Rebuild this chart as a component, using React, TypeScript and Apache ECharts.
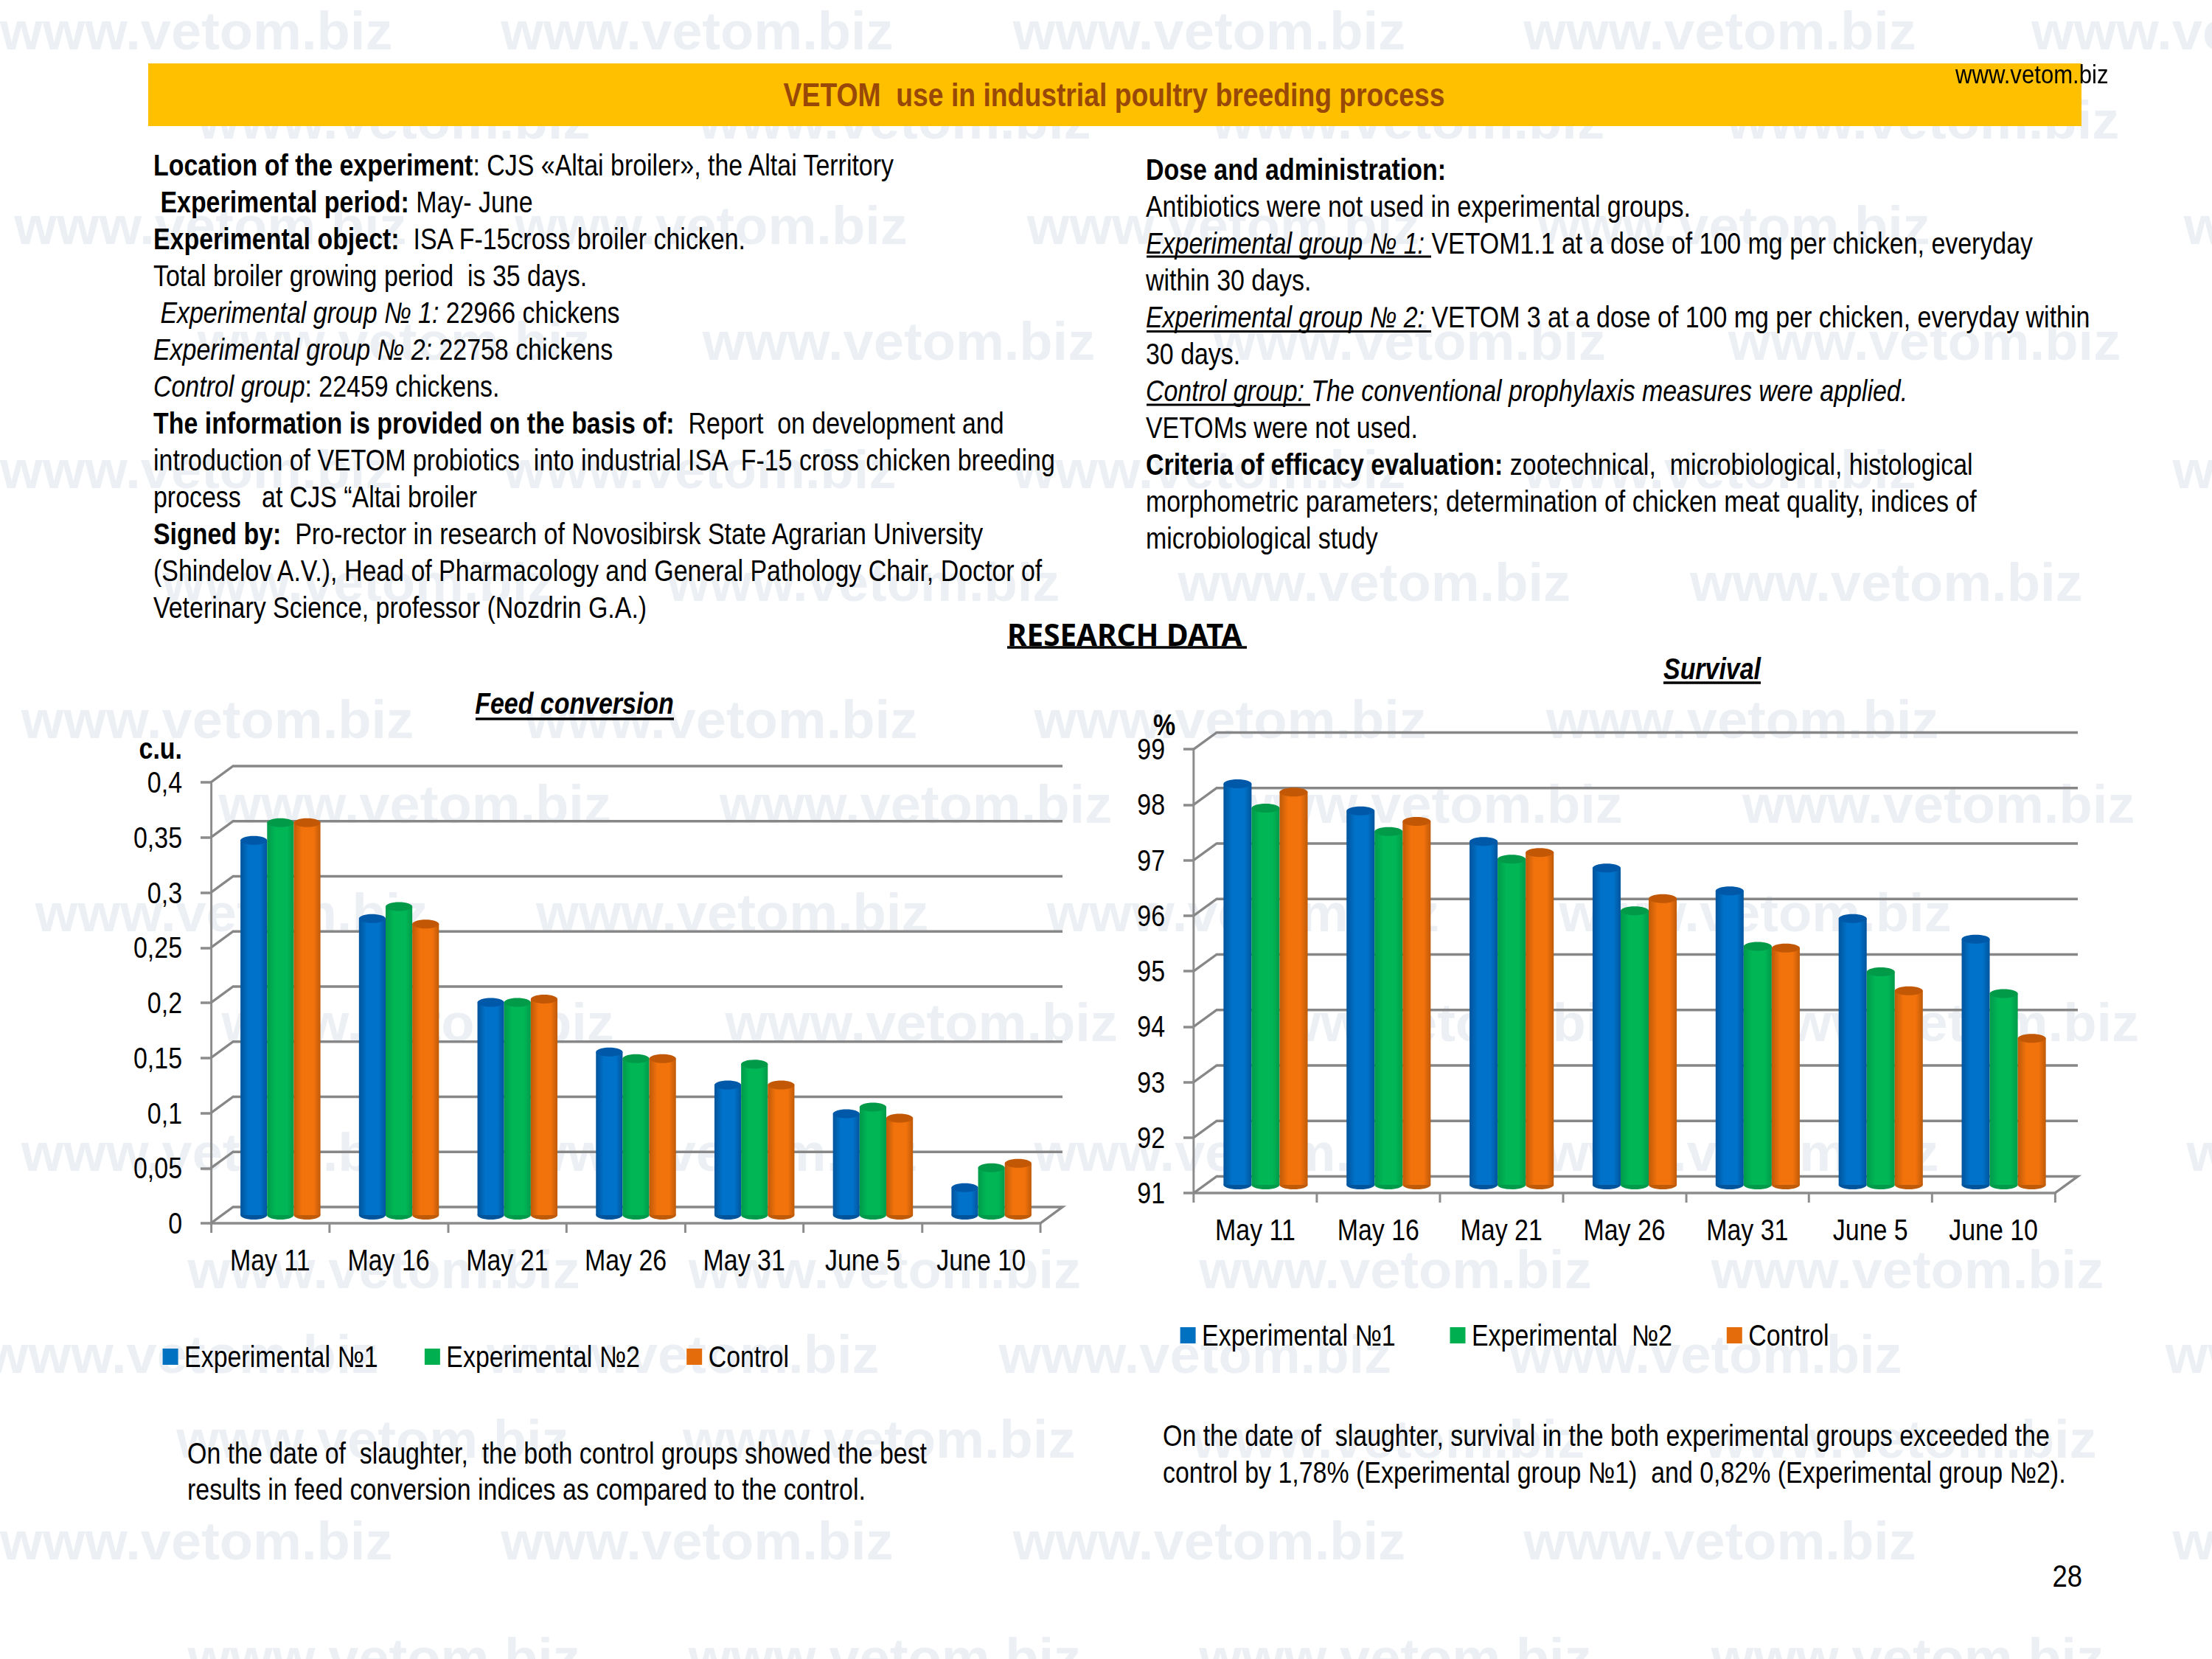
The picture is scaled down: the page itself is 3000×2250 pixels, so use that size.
import React, { useEffect, useRef } from "react";
import * as echarts from "echarts";

const categories = ["May 11", "May 16", "May 21", "May 26", "May 31", "June 5", "June 10"];

const feedExp1 = [0.34, 0.269, 0.193, 0.148, 0.118, 0.092, 0.025];
const feedExp2 = [0.356, 0.28, 0.193, 0.142, 0.137, 0.098, 0.043];
const feedCtrl = [0.356, 0.264, 0.196, 0.142, 0.118, 0.088, 0.047];
const feedTicks = [0, 0.05, 0.1, 0.15, 0.2, 0.25, 0.3, 0.35, 0.4];

const survExp1 = [98.23, 97.74, 97.19, 96.71, 96.3, 95.8, 95.43];
const survExp2 = [97.79, 97.37, 96.87, 95.94, 95.3, 94.84, 94.45];
const survCtrl = [98.08, 97.55, 96.99, 96.16, 95.27, 94.5, 93.64];
const survTicks = [91, 92, 93, 94, 95, 96, 97, 98, 99];

// The reference is a slide squeezed horizontally: the chart is drawn wider and the div is squeezed back.
const K = 0.848;
const X = (v: number) => v / K;

const FONT = '"Liberation Sans",Arial,sans-serif';
const BODY_SIZE = 40;

type Run = [string, string];
const leftLines: Run[][] = [
  [["b", "Location of the experiment"], ["n", ": CJS «Altai broiler», the Altai Territory"]],
  [["b", " Experimental period:"], ["n", " May- June"]],
  [["b", "Experimental object:"], ["n", "  ISA F-15cross broiler chicken."]],
  [["n", "Total broiler growing period  is 35 days."]],
  [["i", " Experimental group № 1:"], ["n", " 22966 chickens"]],
  [["i", "Experimental group № 2:"], ["n", " 22758 chickens"]],
  [["i", "Control group"], ["n", ": 22459 chickens."]],
  [["b", "The information is provided on the basis of:"], ["n", "  Report  on development and"]],
  [["n", "introduction of VETOM probiotics  into industrial ISA  F-15 cross chicken breeding"]],
  [["n", "process   at CJS “Altai broiler"]],
  [["b", "Signed by:"], ["n", "  Pro-rector in research of Novosibirsk State Agrarian University"]],
  [["n", "(Shindelov A.V.), Head of Pharmacology and General Pathology Chair, Doctor of"]],
  [["n", "Veterinary Science, professor (Nozdrin G.A.)"]],
];
const rightLines: Run[][] = [
  [["b", "Dose and administration:"]],
  [["n", "Antibiotics were not used in experimental groups."]],
  [["i", "Experimental group № 1: "], ["n", "VETOM1.1 at a dose of 100 mg per chicken, everyday"]],
  [["n", "within 30 days."]],
  [["i", "Experimental group № 2: "], ["n", "VETOM 3 at a dose of 100 mg per chicken, everyday within"]],
  [["n", "30 days."]],
  [["i", "Control group: The conventional prophylaxis measures were applied."]],
  [["n", "VETOMs were not used."]],
  [["b", "Criteria of efficacy evaluation:"], ["n", " zootechnical,  microbiological, histological"]],
  [["n", "morphometric parameters; determination of chicken meat quality, indices of"]],
  [["n", "microbiological study"]],
];
const leftNote = [
  "On the date of  slaughter,  the both control groups showed the best",
  "results in feed conversion indices as compared to the control.",
];
const rightNote = [
  "On the date of  slaughter, survival in the both experimental groups exceeded the",
  "control by 1,78% (Experimental group №1)  and 0,82% (Experimental group №2).",
];

const WATERMARK_ROWS: [number, number[]][] = [
  [22, [0, 355, 718, 1080, 1440]],
  [85, [140, 495, 859, 1224]],
  [160, [10, 365, 728, 1090, 1548]],
  [242, [140, 498, 860, 1225]],
  [333, [0, 357, 718, 1080, 1540]],
  [413, [115, 473, 835, 1198]],
  [510, [15, 372, 733, 1096]],
  [570, [155, 510, 872, 1235]],
  [647, [25, 380, 742, 1105]],
  [725, [157, 514, 876, 1238]],
  [817, [15, 372, 733, 1096, 1550]],
  [900, [133, 488, 850, 1213]],
  [960, [-10, 345, 708, 1070, 1535]],
  [1020, [125, 484, 845, 1208]],
  [1092, [0, 355, 718, 1080, 1540]],
  [1175, [133, 488, 850, 1213]],
];
const THUMB = 3000 / 1568;

const SHADES = {
  blue: { cap: "#0059a8", edge: "#00549c", mid: "#0072c9", legend: "#0070c0" },
  green: { cap: "#009a49", edge: "#009a4a", mid: "#00b655", legend: "#00b050" },
  orange: { cap: "#c25806", edge: "#bf5a08", mid: "#f2720c", legend: "#e46c0a" },
};

function cylinder(shade: typeof SHADES.blue, idx: number, widthRatio: number, shift: number, lift: number, baseValue: number) {
  return (_p: any, api: any) => {
    const band = api.size([1, 0])[0];
    const w = band * widthRatio;
    const c = api.coord([api.value(0), api.value(1)]);
    const b = api.coord([api.value(0), baseValue]);
    const x = c[0] + shift + (idx - 2.5) * w;
    const top = c[1] - lift;
    const bottom = b[1] - lift;
    const ry = 6;
    const fill = new echarts.graphic.LinearGradient(0, 0, 1, 0, [
      { offset: 0, color: shade.edge },
      { offset: 0.3, color: shade.mid },
      { offset: 0.75, color: shade.mid },
      { offset: 1, color: shade.edge },
    ]);
    return {
      type: "group",
      children: [
        { type: "ellipse", shape: { cx: x + w / 2, cy: bottom, rx: w / 2, ry }, style: { fill: shade.edge } },
        { type: "rect", shape: { x, y: top, width: w, height: bottom - top }, style: { fill } },
        { type: "ellipse", shape: { cx: x + w / 2, cy: top, rx: w / 2, ry }, style: { fill: shade.cap } },
      ],
    };
  };
}

function wall(dx: number, dy: number, minValue: number) {
  return (p: any, api: any) => {
    const v = api.value(1);
    const y = api.coord([0, v])[1];
    const s = p.coordSys;
    const pts = [
      [s.x, y],
      [s.x + dx, y + dy],
      [s.x + s.width + dx, y + dy],
    ];
    if (v === minValue) pts.push([s.x + s.width, y]);
    return { type: "polyline", shape: { points: pts }, style: { fill: "none", stroke: "#878787", lineWidth: 3.5 } };
  };
}

function axesFor(gridIndex: number, min: number, max: number, interval: number, labelMargin: number, fmt: (v: number) => string) {
  const lineStyle = { color: "#8c8c8c", width: 3.5 };
  const base = { fontFamily: FONT, fontSize: 40, color: "#000" };
  return {
    x: {
      type: "category",
      gridIndex,
      data: categories,
      axisLine: { lineStyle },
      axisTick: { show: true, length: 13, lineStyle },
      axisLabel: { ...base, margin: labelMargin, interval: 0 },
      splitLine: { show: false },
    },
    y: {
      type: "value",
      gridIndex,
      min,
      max,
      interval,
      axisLine: { show: true, lineStyle },
      axisTick: { show: true, length: X(14), lineStyle },
      axisLabel: { ...base, margin: X(39), formatter: fmt, showMinLabel: true, showMaxLabel: true },
      splitLine: { show: false },
    },
  };
}

function bodyText(runs: Run[], x: number, y: number) {
  const text = runs.map(([k, t]) => (k === "n" ? t : `{${k}|${t}}`)).join("");
  return {
    type: "text",
    z: 5,
    x: X(x),
    y,
    style: {
      text,
      fontFamily: FONT,
      fontSize: BODY_SIZE,
      fill: "#000",
      verticalAlign: "middle",
      align: "left",
      rich: {
        b: { fontFamily: FONT, fontSize: BODY_SIZE, fontWeight: "bold", fill: "#000", color: "#000" },
        i: { fontFamily: FONT, fontSize: BODY_SIZE, fontStyle: "italic", fill: "#000", color: "#000" },
      },
    },
  };
}

function rule(x1: number, x2: number, y: number, w = 3) {
  return { type: "line", z: 5, shape: { x1: X(x1), y1: y, x2: X(x2), y2: y }, style: { stroke: "#000", lineWidth: w } };
}

function plain(text: string, x: number, y: number, extra: any = {}, sx = 1) {
  return {
    type: "text",
    z: 5,
    x: X(x),
    y,
    scaleX: sx,
    style: { text, fontFamily: FONT, fontSize: 40, fill: "#000", verticalAlign: "middle", align: "left", ...extra },
  };
}

function buildOption() {
  const graphic: any[] = [];
  WATERMARK_ROWS.forEach(([y, xs]) =>
    xs.forEach((x) =>
      graphic.push({
        type: "text",
        z: 0,
        x: X(x * THUMB),
        y: y * THUMB,
        scaleX: 1.015 / K,
        style: {
          text: "www.vetom.biz",
          fontFamily: FONT,
          fontWeight: "bold",
          fontSize: 73,
          fill: "#ecf0f4",
          verticalAlign: "middle",
        },
      })
    )
  );
  graphic.push({ type: "rect", z: 1, shape: { x: X(201), y: 86, width: X(2622), height: 85 }, style: { fill: "#ffc000" } });
  graphic.push(plain("VETOM  use in industrial poultry breeding process", 1511, 129, { align: "center", fontWeight: "bold", fill: "#984807", fontSize: 44 }));
  graphic.push(plain("www.vetom.biz", 2652, 101, { fontSize: 36 }, 1.02));

  const leftY = [224, 274, 324, 374, 424, 474, 524, 574, 624, 674, 724, 774, 824];
  leftLines.forEach((l, i) => graphic.push(bodyText(l, 208, leftY[i])));
  const rightY = [230, 280, 330, 380, 430, 480, 530, 580, 630, 680, 730];
  rightLines.forEach((l, i) => graphic.push(bodyText(l, 1554, rightY[i])));
  graphic.push(rule(1555, 1941, 348), rule(1555, 1941, 449.5), rule(1555, 1777, 549));

  graphic.push(plain("RESEARCH DATA", 1366, 860, { fontFamily: '"Noto Sans",sans-serif', fontWeight: "bold", fontSize: 42 }, 0.963 / K));
  graphic.push(rule(1366, 1691, 878, 3.5));
  graphic.push(plain("Feed conversion", 779, 954, { align: "center", fontWeight: "bold", fontStyle: "italic" }));
  graphic.push(rule(645, 914, 975, 3.5));
  graphic.push(plain("c.u.", 247, 1015, { align: "right", fontWeight: "bold" }));
  graphic.push(plain("Survival", 2322, 907, { align: "center", fontWeight: "bold", fontStyle: "italic" }));
  graphic.push(rule(2256, 2388, 926, 3.5));
  graphic.push(plain("%", 1579, 983, { align: "center", fontWeight: "bold" }));

  leftNote.forEach((t, i) => graphic.push(plain(t, 254, 1971 + i * 49)));
  rightNote.forEach((t, i) => graphic.push(plain(t, 1577, 1947 + i * 50)));
  graphic.push(plain("28", 2824, 2137, { align: "right", fontSize: 43 }));

  const a = axesFor(0, 0, 0.4, 0.05, 30, (v) => String(parseFloat(v.toFixed(2))).replace(".", ","));
  const b = axesFor(1, 91, 99, 1, 30, (v) => String(v));

  const legendBase = {
    icon: "rect",
    itemWidth: X(21),
    itemHeight: 22,
    padding: 0,
    orient: "horizontal",
    textStyle: { fontFamily: FONT, fontSize: 40, color: "#000", padding: [0, 0, 0, 5] },
  };

  const mk = (name: string, data: number[], shade: typeof SHADES.blue, idx: number, axis: number, ratio: number, base: number) => ({
    type: "custom",
    name,
    xAxisIndex: axis,
    yAxisIndex: axis,
    z: 3 + idx,
    clip: false,
    itemStyle: { color: shade.legend },
    renderItem: cylinder(shade, idx, ratio, X(14), 11, base),
    encode: { x: 0, y: 1 },
    data: data.map((v, i) => [i, v]),
  });

  return {
    animation: false,
    backgroundColor: "#ffffff",
    graphic: { elements: graphic },
    grid: [
      { left: X(286), top: 1061, width: X(1125), height: 598, containLabel: false },
      { left: X(1619), top: 1016, width: X(1168), height: 602, containLabel: false },
    ],
    xAxis: [a.x, b.x],
    yAxis: [a.y, b.y],
    legend: [
      { ...legendBase, left: X(220.6), top: 1820, itemGap: 74.5, data: ["Experimental №1", "Experimental №2", "Control"] },
      { ...legendBase, left: X(1600.6), top: 1791, itemGap: 87, data: ["Experimental №1", "Experimental  №2", "Control"] },
    ],
    series: [
      { type: "custom", xAxisIndex: 0, yAxisIndex: 0, z: 2, clip: false, silent: true, renderItem: wall(X(30), -22, 0), encode: { x: 0, y: 1 }, data: feedTicks.map((v) => [0, v]) },
      { type: "custom", xAxisIndex: 1, yAxisIndex: 1, z: 2, clip: false, silent: true, renderItem: wall(X(31), -22.5, 91), encode: { x: 0, y: 1 }, data: survTicks.map((v) => [0, v]) },
      mk("Experimental №1", feedExp1, SHADES.blue, 1, 0, 0.225, 0),
      mk("Experimental №2", feedExp2, SHADES.green, 2, 0, 0.225, 0),
      mk("Control", feedCtrl, SHADES.orange, 3, 0, 0.225, 0),
      mk("Experimental №1", survExp1, SHADES.blue, 1, 1, 0.228, 91),
      mk("Experimental  №2", survExp2, SHADES.green, 2, 1, 0.228, 91),
      mk("Control", survCtrl, SHADES.orange, 3, 1, 0.228, 91),
    ],
  };
}

export default function App() {
  const ref = useRef<HTMLDivElement>(null);
  useEffect(() => {
    const chart = echarts.init(ref.current!, undefined, { renderer: "svg", width: X(3000), height: 2250 });
    chart.setOption(buildOption() as any);
    return () => chart.dispose();
  }, []);
  return (
    <div
      ref={ref}
      style={{ position: "absolute", left: 0, top: 0, width: X(3000), height: 2250, transform: `scaleX(${K})`, transformOrigin: "0 0" }}
    />
  );
}
